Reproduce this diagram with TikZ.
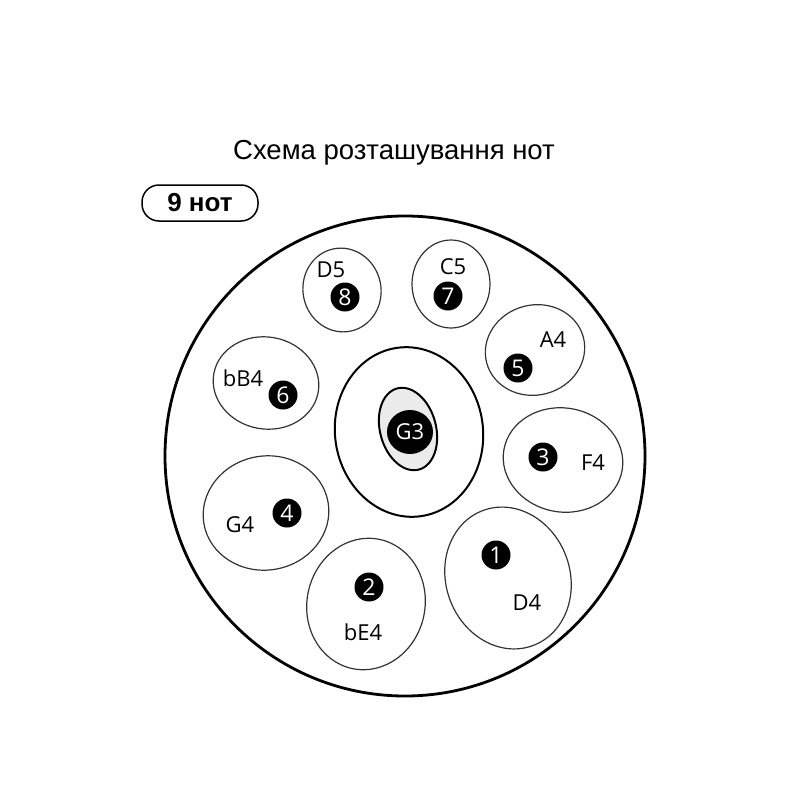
\documentclass[tikz,border=0pt]{standalone}
\usepackage{fontspec}
\setmainfont{Liberation Sans}
\newfontfamily\padfont{Open Sans}
\usetikzlibrary{shapes.geometric}

\tikzset{
  pad/.style={draw=black!80, line width=1.2pt},
  pitchname/.style={font=\padfont\fontsize{22}{22}\selectfont},
  pitchdot/.style={circle, fill=black, text=white, inner sep=0pt, minimum size=29pt,
    font=\padfont\fontsize{23}{23}\selectfont},
}

\begin{document}
\begin{tikzpicture}[x=1pt,y=-1pt]
\useasboundingbox (0,0) rectangle (800,800);

\node (title) at (394,153) {\fontsize{27.5}{27.5}\selectfont Схема розташування нот};
\node [draw, line width=1.5pt, rounded corners=17pt, minimum width=116pt, minimum height=36pt]
  (count) at (200,203) {\fontsize{26}{26}\selectfont\bfseries 9 нот};

\draw [line width=2.8pt] (405,456) circle (240);

% ding
\draw [line width=2pt, rotate around={8:(409,432)}] (409,432) ellipse [x radius=74, y radius=85];
\draw [line width=2pt, fill=black!8, rotate around={15:(408,429)}] (408,429) ellipse [x radius=28, y radius=42];
\node [ellipse, fill=black, text=white, inner sep=0pt, minimum width=46pt, minimum height=44pt,
  font=\padfont\fontsize{22}{22}\selectfont] (ding) at (410,432) {G3};

% tone fields
\foreach \cx/\cy/\rx/\ry/\ang/\pitch/\nx/\ny/\num/\dx/\dy in {
    508/578/62/72/20/D4/527/603/1/496/555,
    366/604/59/66/-12/bE4/363/632/2/369/587,
    563/460/60/52/-10/F4/593/463/3/543/457,
    266/513/63/57/10/G4/240/525/4/287/513,
    535/350/50/45/15/A4/553/340/5/518/368,
    266/383/53/46/-10/bB4/243/378/6/283/395,
    451/284/39/44/0/C5/453/267/7/448/296,
    342/290/39/42/12/D5/331/270/8/345/297}
{
    \draw [pad, rotate around={\ang:(\cx,\cy)}] (\cx,\cy) ellipse [x radius=\rx, y radius=\ry];
    \node [pitchname] (pitch\num) at (\nx,\ny) {\pitch};
    \node [pitchdot] (dot\num) at (\dx,\dy) {\num};
}

\end{tikzpicture}
\end{document}
